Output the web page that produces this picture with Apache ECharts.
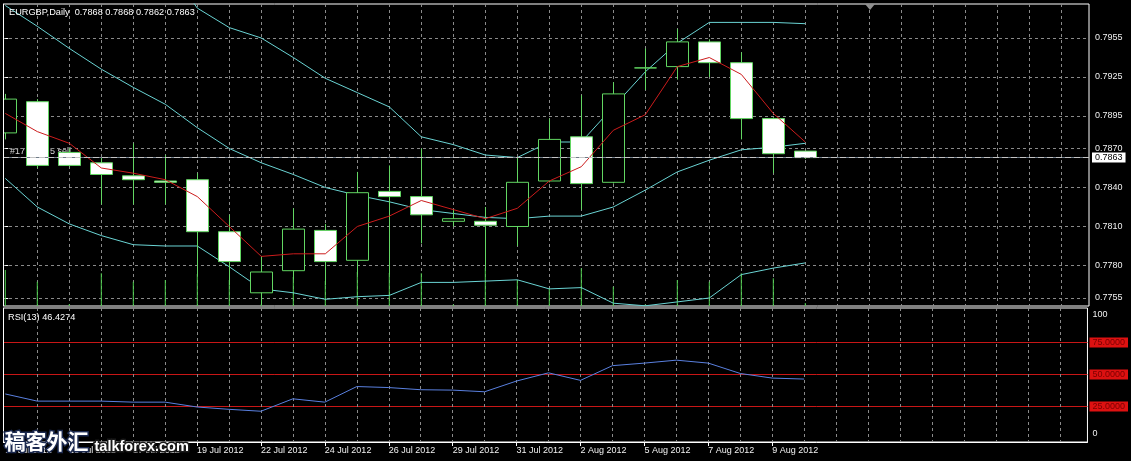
<!DOCTYPE html>
<html><head><meta charset="utf-8">
<script src="https://cdn.jsdelivr.net/npm/echarts@6/dist/echarts.min.js"></script>
<style>html,body{margin:0;padding:0;background:#000;}#c{width:1131px;height:461px;}</style>
</head><body><div id="c"></div>
<script>
const symbol = 'EURGBP';
const period = 'Daily';
const dates = ['12 Jul 2012','13 Jul 2012','15 Jul 2012','16 Jul 2012','17 Jul 2012','18 Jul 2012','19 Jul 2012','20 Jul 2012','22 Jul 2012','23 Jul 2012','24 Jul 2012','25 Jul 2012','26 Jul 2012','27 Jul 2012','29 Jul 2012','30 Jul 2012','31 Jul 2012','1 Aug 2012','2 Aug 2012','3 Aug 2012','5 Aug 2012','6 Aug 2012','7 Aug 2012','8 Aug 2012','9 Aug 2012','10 Aug 2012'];
const open  = [0.7882,0.7906,0.7867,0.7859,0.7849,0.7845,0.7846,0.7806,0.7759,0.7776,0.7807,0.7784,0.7837,0.7833,0.7814,0.7814,0.7810,0.7845,0.7879,0.7844,0.7932,0.7933,0.7952,0.7936,0.7893,0.7868];
const high  = [0.7912,0.7908,0.7870,0.7863,0.7874,0.7865,0.7851,0.7819,0.7787,0.7824,0.7812,0.7852,0.7857,0.7870,0.7823,0.7825,0.7863,0.7893,0.7911,0.7921,0.7947,0.7962,0.7954,0.7944,0.7894,0.7868];
const low   = [0.7877,0.7855,0.7856,0.7827,0.7827,0.7827,0.7772,0.7765,0.7750,0.7769,0.7765,0.7773,0.7773,0.7797,0.7810,0.7778,0.7795,0.7844,0.7823,0.7843,0.7915,0.7923,0.7925,0.7877,0.7851,0.7862];
const close = [0.7908,0.7857,0.7857,0.7850,0.7846,0.7844,0.7806,0.7783,0.7775,0.7808,0.7783,0.7836,0.7833,0.7819,0.7816,0.7811,0.7844,0.7877,0.7843,0.7912,0.7932,0.7952,0.7936,0.7893,0.7866,0.7863];
const volume = [3600,2430,200,3270,2430,2600,3200,2600,200,2900,2500,3400,3300,3270,150,3800,2600,1770,3770,1930,150,2600,2430,3270,2770,300];
const maLine = [0.7897,0.7883,0.7874,0.7855,0.7851,0.7846,0.7833,0.7810,0.7787,0.7789,0.7789,0.7810,0.7818,0.7830,0.7823,0.7816,0.7824,0.7845,0.7856,0.7884,0.7896,0.7933,0.7940,0.7927,0.7897,0.7875];
const bbUpper = [0.8113,0.8103,0.8083,0.8059,0.8039,0.8013,0.7978,0.7963,0.7955,0.7940,0.7924,0.7913,0.7902,0.7879,0.7873,0.7865,0.7863,0.7875,0.7875,0.7902,0.7929,0.7951,0.7967,0.7967,0.7967,0.7966];
const bbMiddle = [0.7980,0.7964,0.7947,0.7931,0.7917,0.7904,0.7886,0.7870,0.7859,0.7850,0.7840,0.7834,0.7829,0.7823,0.7820,0.7817,0.7816,0.7818,0.7818,0.7825,0.7838,0.7852,0.7861,0.7869,0.7871,0.7874];
const bbLower = [0.7847,0.7825,0.7812,0.7803,0.7796,0.7795,0.7795,0.7779,0.7762,0.7759,0.7754,0.7756,0.7757,0.7767,0.7767,0.7768,0.7769,0.7762,0.7763,0.7751,0.7749,0.7752,0.7755,0.7773,0.7778,0.7782];
const rsiPeriod = 13;
const rsi = [34.8,29.2,29.2,29.2,28.4,28.4,24.6,22.8,21.3,31.0,28.4,40.6,39.8,38.1,37.8,36.5,44.9,51.3,45.4,56.9,58.9,61.2,58.9,50.8,47.2,46.4274];
const priceTicks = [0.7755,0.7780,0.7810,0.7840,0.7870,0.7895,0.7925,0.7955];
const rsiTicks = [0,100];
const rsiLevels = [75,50,25];
const dateTickIdx = [0,2,4,6,8,10,12,14,16,18,20,22,24];
const slotCount = 34;

const last = close.length - 1;
const idx = dates.map((d, i) => i);
const gridSlots = [];
for (let k = 1; k < slotCount; k++) gridSlots.push(k);

const FONT = 'Liberation Sans';
const GRIDC = '#8a8a8a';
const GREEN = '#62d662';
const CYAN = '#6ad4d4';
const TXT = '#f0f0f0';
const LEVEL = '#c81616';

const xMin = -0.071875, xMax = 33.865625;
const pMin = 0.7748846, pMax = 0.7981154;
const rMin = -2.734, rMax = 101.953;

const pair = arr => arr.map((v, i) => [i, v]);
const candles = idx.map(i => [i, open[i], close[i], low[i], high[i]]);

const chart = echarts.init(document.getElementById('c'), null, {renderer: 'canvas'});
chart.setOption({
  animation: false,
  backgroundColor: '#000',
  title: {
    text: symbol + ',' + period + '  ' + [open[last], high[last], low[last], close[last]].map(v => v.toFixed(4)).join(' '),
    left: 9, top: 8, padding: 0,
    textStyle: {color: '#fff', fontSize: 9.2, fontWeight: 'normal', fontFamily: FONT}
  },
  grid: [
    {left: 3, top: 4, width: 1086, height: 302, show: true, borderColor: '#fff', borderWidth: 1, backgroundColor: '#000'},
    {left: 3, top: 308, width: 1086, height: 134, show: true, borderColor: '#fff', borderWidth: 1, backgroundColor: '#000'}
  ],
  xAxis: [
    {gridIndex: 0, type: 'value', min: xMin, max: xMax, position: 'bottom',
     axisLine: {show: false}, axisTick: {show: false, customValues: gridSlots}, axisLabel: {show: false},
     splitLine: {show: true, lineStyle: {color: GRIDC, type: [3, 3], width: 1}}},
    {gridIndex: 1, type: 'value', min: xMin, max: xMax, position: 'top',
     axisLine: {show: false}, axisTick: {show: false, customValues: gridSlots}, axisLabel: {show: false},
     splitLine: {show: true, lineStyle: {color: GRIDC, type: [3, 3], width: 1}}},
    {gridIndex: 1, type: 'value', min: xMin, max: xMax, position: 'bottom',
     axisLine: {show: true, onZero: false, lineStyle: {color: '#fff', width: 1}},
     axisTick: {show: true, customValues: dateTickIdx, length: 4, lineStyle: {color: '#fff'}},
     axisLabel: {show: true, customValues: dateTickIdx, formatter: v => dates[Math.round(v)], align: 'left',
                 margin: 4, color: TXT, fontSize: 9, fontFamily: FONT},
     splitLine: {show: false}}
  ],
  yAxis: [
    {gridIndex: 0, type: 'value', position: 'right', min: pMin, max: pMax, scale: true,
     axisLine: {show: false},
     axisTick: {show: true, customValues: priceTicks, length: 3, lineStyle: {color: '#fff'}},
     axisLabel: {show: true, customValues: priceTicks, formatter: v => v.toFixed(4), margin: 6,
                 color: TXT, fontSize: 9, fontFamily: FONT},
     splitLine: {show: true, lineStyle: {color: GRIDC, type: [3, 3], width: 1}}},
    {gridIndex: 0, type: 'value', min: 0, max: 30200, show: false, splitLine: {show: false}},
    {gridIndex: 1, type: 'value', position: 'right', min: rMin, max: rMax,
     axisLine: {show: false},
     axisTick: {show: false, customValues: rsiLevels},
     axisLabel: {show: true, customValues: rsiTicks.concat(rsiLevels), margin: 2,
                 formatter: v => (v >= 100 ? '{t|' + v + '}' : v <= 0 ? '{b|' + v + '}' : '{l|' + v.toFixed(4) + '}'),
                 rich: {t: {padding: [9, 0, 0, 3], color: TXT, fontSize: 9, fontFamily: FONT},
                        b: {padding: [0, 0, 9, 3], color: TXT, fontSize: 9, fontFamily: FONT},
                        l: {padding: [1, 3, 0, 3], backgroundColor: '#dd1111', color: '#7a0000', fontSize: 9, fontFamily: FONT}}},
     splitLine: {show: true, lineStyle: {color: LEVEL, type: 'solid', width: 1}}}
  ],
  series: [
    {type: 'bar', name: 'Volumes', xAxisIndex: 0, yAxisIndex: 1, data: pair(volume), barWidth: 1,
     itemStyle: {color: '#4fd04f'}, silent: true, z: 1},
    {type: 'line', name: 'BB upper', xAxisIndex: 0, yAxisIndex: 0, data: pair(bbUpper), symbol: 'none',
     lineStyle: {color: CYAN, width: 1}, silent: true, z: 2},
    {type: 'line', name: 'BB middle', xAxisIndex: 0, yAxisIndex: 0, data: pair(bbMiddle), symbol: 'none',
     lineStyle: {color: CYAN, width: 1}, silent: true, z: 2,
     markLine: {silent: true, symbol: ['none', 'none'], animation: false, precision: 4,
       data: [
         {yAxis: close[last], lineStyle: {color: '#6e7b88', type: 'solid', width: 1},
          label: {show: true, position: 'end', distance: 3, formatter: () => close[last].toFixed(4),
                  backgroundColor: '#fff', color: '#000', fontSize: 9, fontFamily: FONT, padding: [1, 3, 0, 3]}},
         {yAxis: close[last], lineStyle: {color: '#c4c4c4', type: [6, 3], width: 1}, label: {show: false}}
       ]}},
    {type: 'line', name: 'BB lower', xAxisIndex: 0, yAxisIndex: 0, data: pair(bbLower), symbol: 'none',
     lineStyle: {color: CYAN, width: 1}, silent: true, z: 2},
    {type: 'candlestick', name: symbol, xAxisIndex: 0, yAxisIndex: 0, data: candles,
     encode: {x: 0, y: [1, 2, 3, 4]}, barWidth: 23, clip: true, z: 3,
     itemStyle: {color: '#000', color0: '#fff', borderColor: GREEN, borderColor0: GREEN, borderColorDoji: GREEN, borderWidth: 1}},
    {type: 'line', name: 'MA', xAxisIndex: 0, yAxisIndex: 0, data: pair(maLine), symbol: 'none',
     lineStyle: {color: '#cc1c1c', width: 1}, silent: true, z: 4},
    {type: 'line', name: 'RSI(' + rsiPeriod + ')', xAxisIndex: 1, yAxisIndex: 2, data: pair(rsi), symbol: 'none',
     lineStyle: {color: '#5a80e0', width: 1}, silent: true, z: 4}
  ],
  graphic: [
    {type: 'text', left: 10, top: 147, silent: true, style: {text: '#17', fill: '#d8d8d8', font: '9px ' + FONT}},
    {type: 'text', left: 50, top: 147, silent: true, z: 0, style: {text: '5 sell', fill: '#d8d8d8', font: '9px ' + FONT}},
    {type: 'text', left: 8, top: 313, silent: true,
     style: {text: 'RSI(' + rsiPeriod + ') ' + rsi[last].toFixed(4), fill: '#fff', font: '9.2px ' + FONT}},
    {type: 'polygon', silent: true, shape: {points: [[865, 4], [875, 4], [870, 10]]}, style: {fill: '#909090'}},
    {type: 'rect', silent: true, z: 90, shape: {x: 0, y: 0, width: 3, height: 461}, style: {fill: '#000'}},
    {type: 'line', silent: true, z: 91, shape: {x1: 3.5, y1: 4, x2: 3.5, y2: 306}, style: {stroke: '#fff', lineWidth: 1}},
    {type: 'line', silent: true, z: 91, shape: {x1: 3.5, y1: 308, x2: 3.5, y2: 442}, style: {stroke: '#fff', lineWidth: 1}},
    {type: 'text', left: 3, top: 429, silent: true, z: 100,
     style: {text: '稿客外汇', fill: '#ffffff', stroke: '#1c2a50', lineWidth: 3, strokeFirst: true,
             font: 'bold 21px "Noto Sans CJK SC"'}},
    {type: 'text', left: 93, top: 438, silent: true, z: 100,
     style: {text: 'talkforex.com', fill: '#ffffff', stroke: '#1a1a1a', lineWidth: 3, strokeFirst: true,
             font: 'bold 14.5px ' + FONT}}
  ]
});
</script></body></html>
